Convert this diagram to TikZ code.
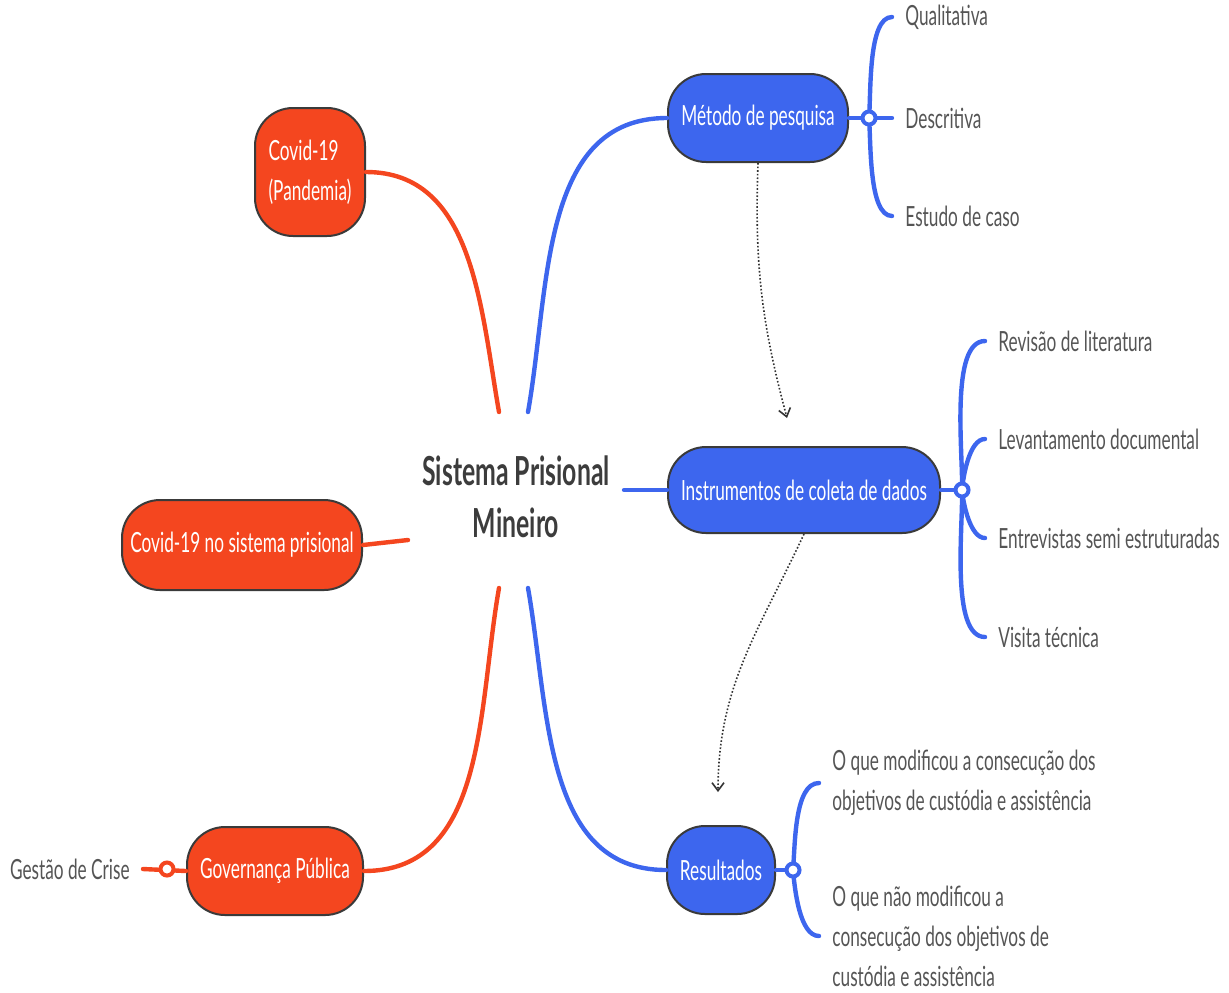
\documentclass[tikz,border=0pt]{standalone}
\usepackage{fontspec}
\usetikzlibrary{arrows.meta}
\newfontfamily\mapfont[FakeStretch=0.62]{Lato}
\definecolor{mapblue}{HTML}{3D66EE}
\definecolor{mapred}{HTML}{F4461F}
\definecolor{boxline}{HTML}{3A3A3A}
\definecolor{leaftext}{HTML}{555555}
\definecolor{titlegray}{HTML}{3C3C3C}
\begin{document}
\begin{tikzpicture}[x=0.5pt,y=0.5pt,
  topic/.style={draw=boxline,line width=1pt,text=white,rounded corners=19pt,align=center,inner sep=0pt,font=\mapfont\fontsize{13.9}{20}\selectfont},
  bluetopic/.style={topic,fill=mapblue},
  redtopic/.style={topic,fill=mapred},
  leaf/.style={anchor=west,text=leaftext,align=left,inner xsep=6.5pt,inner ysep=0pt,font=\mapfont\fontsize{13.9}{20}\selectfont},
  bluelink/.style={draw=mapblue,line width=2.2pt,line cap=round},
  redlink/.style={draw=mapred,line width=2.2pt,line cap=round},
  knot/.style={circle,fill=white,line width=2pt,inner sep=0pt,minimum size=6.5pt},
  follow/.style={densely dotted,line width=0.8pt,draw=black!80,-{Straight Barb[length=4pt,width=6pt]}}]
\useasboundingbox (0,0) rectangle (1229,-992);
% tema central
\node[text=titlegray,align=center,font=\mapfont\bfseries\fontsize{20}{26}\selectfont] (centro) at (516,-497) {Sistema Prisional\\Mineiro};
\coordinate (sM) at (528,-412);
\coordinate (sI) at (624,-490);
\coordinate (sR) at (528,-588);
\coordinate (sP) at (499,-412);
\coordinate (sC) at (408,-540);
\coordinate (sG) at (499,-588);
% topicos
\node[bluetopic,minimum width=90pt,minimum height=44pt] (metodo) at (758,-118) {Método de pesquisa};
\node[bluetopic,minimum width=136pt,minimum height=43pt] (instrumentos) at (804,-490) {Instrumentos de coleta de dados};
\node[bluetopic,minimum width=54pt,minimum height=44pt] (resultados) at (721,-870) {Resultados};
\node[redtopic,minimum width=55pt,minimum height=64pt,align=left] (pandemia) at (310,-172) {Covid-19\\(Pandemia)};
\node[redtopic,minimum width=120pt,minimum height=45pt] (covidsp) at (242,-545) {Covid-19 no sistema prisional};
\node[redtopic,minimum width=88pt,minimum height=44pt] (governanca) at (275,-871) {Governança Pública};
\draw[bluelink](sM) to[out=80,in=180] (metodo.west);
\draw[bluelink](sI) -- (instrumentos.west);
\draw[bluelink](sR) to[out=-80,in=180] (resultados.west);
\draw[redlink](sP) to[out=100,in=0] (pandemia.east);
\draw[redlink](sC) -- (covidsp.east);
\draw[redlink](sG) to[out=-100,in=0] (governanca.east);
% folhas
\node[leaf] (qualitativa) at (892,-17) {Qualitativa};
\node[leaf] (descritiva) at (892,-118) {Descritiva};
\node[leaf] (estudo) at (892,-216) {Estudo de caso};
\node[leaf] (revisao) at (985,-341) {Revisão de literatura};
\node[leaf] (levantamento) at (985,-439) {Levantamento documental};
\node[leaf] (entrevistas) at (985,-538) {Entrevistas semi estruturadas};
\node[leaf] (visita) at (985,-637) {Visita técnica};
\node[leaf] (modificou) at (819,-783) {O que modificou a consecução dos\\objetivos de custódia e assistência};
\node[leaf] (naomodificou) at (819,-936) {O que não modificou a\\consecução dos objetivos de\\custódia e assistência};
\node[leaf,anchor=east] (gestao) at (143,-869) {Gestão de Crise};
% ramos
\draw[bluelink](metodo.east) -- (descritiva.west);
\draw[bluelink](869,-118) to[out=85,in=180,looseness=0.6] (qualitativa.west);
\draw[bluelink](869,-118) to[out=-85,in=180,looseness=0.6] (estudo.west);
\draw[bluelink](instrumentos.east) -- (962,-490);
\draw[bluelink](962,-490) to[out=88,in=180,looseness=0.6] (revisao.west);
\draw[bluelink](962,-490) to[out=85,in=180,looseness=0.7] (levantamento.west);
\draw[bluelink](962,-490) to[out=-85,in=180,looseness=0.7] (entrevistas.west);
\draw[bluelink](962,-490) to[out=-88,in=180,looseness=0.6] (visita.west);
\draw[bluelink](resultados.east) -- (793,-870);
\draw[bluelink](793,-870) to[out=85,in=180,looseness=0.7] (modificou.west);
\draw[bluelink](793,-870) to[out=-85,in=180,looseness=0.7] (naomodificou.west);
\draw[redlink](governanca.west) -- (gestao.east);
\node[knot,draw=mapblue] (kmetodo) at (869,-118) {};
\node[knot,draw=mapblue] (kinstr) at (962,-490) {};
\node[knot,draw=mapblue] (kres) at (793,-870) {};
\node[knot,draw=mapred] (kgov) at (167,-869) {};
% setas pontilhadas
\coordinate (fimM) at (787,-418);
\coordinate (fimI) at (718,-792);
\draw[follow](metodo.south) to[out=-92,in=105] (fimM);
\draw[follow](instrumentos.south) to[out=-115,in=90] (fimI);
\end{tikzpicture}
\end{document}
